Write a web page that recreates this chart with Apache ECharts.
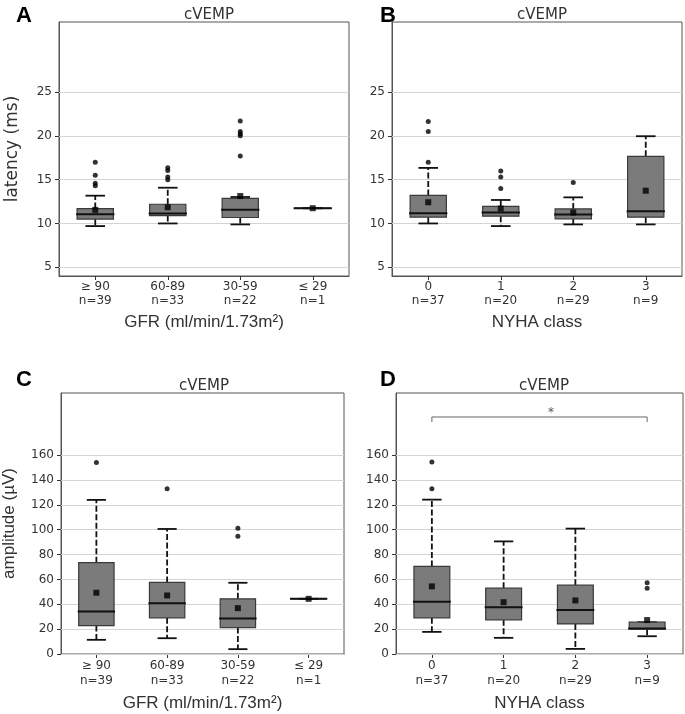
<!DOCTYPE html>
<html>
<head>
<meta charset="utf-8">
<script src="https://cdn.jsdelivr.net/npm/echarts@6/dist/echarts.min.js"></script>
<style>
html,body{margin:0;padding:0;background:#fff;}
#chart{width:685px;height:714px;}
</style>
</head>
<body>
<div id="chart"></div>
<script>
// categories
var gfrCats = ['≥ 90\nn=39', '60-89\nn=33', '30-59\nn=22', '≤ 29\nn=1'];
var nyhaCats = ['0\nn=37', '1\nn=20', '2\nn=29', '3\nn=9'];

// box stats per group: [lower whisker, q1, median, q3, upper whisker]
var latGfrBox = [[9.7, 10.5, 11.06, 11.7, 13.17], [10.0, 10.9, 11.13, 12.19, 14.08], [9.89, 10.68, 11.55, 12.87, 13.02], [11.74, 11.74, 11.74, 11.74, 11.74]];
var latGfrMean = [11.55, 11.85, 13.13, 11.74];
var latGfrOut = [[17.0, 15.5, 14.6, 14.3], [16.35, 16.05, 15.3, 15.0], [21.7, 20.5, 20.25, 20.0, 17.7], []];

var latNyhaBox = [[10.0, 10.72, 11.17, 13.2, 16.34], [9.7, 10.83, 11.25, 11.96, 12.68], [9.89, 10.53, 11.02, 11.66, 12.98], [9.89, 10.72, 11.4, 17.66, 19.96]];
var latNyhaMean = [12.42, 11.7, 11.25, 13.74];
var latNyhaOut = [[21.65, 20.5, 17.0], [16.0, 15.3, 14.0], [14.68], []];

var ampGfrBox = [[11.4, 22.9, 34.2, 73.5, 124.0], [12.7, 29.1, 40.9, 57.6, 100.6], [3.9, 21.3, 28.6, 44.4, 57.3], [44.4, 44.4, 44.4, 44.4, 44.4]];
var ampGfrMean = [49.3, 47.1, 36.9, 44.4];
var ampGfrOut = [[154.1], [132.9], [101.1, 94.7], []];

var ampNyhaBox = [[17.8, 29.1, 42.0, 70.5, 124.2], [13.0, 27.5, 37.7, 53.0, 90.6], [4.1, 24.2, 35.5, 55.4, 100.9], [14.3, 20.0, 20.5, 25.6, 25.6]];
var ampNyhaMean = [54.4, 41.7, 43.1, 27.3];
var ampNyhaOut = [[154.4, 132.9], [], [], [57.3, 53.0]];

// significance bracket in D (groups 0 and 3), bottom / top values
var sigGroups = [0, 3];
var sigLevels = [186.7, 190.7];

// tick labels
var latTicks = [5, 10, 15, 20, 25];
var ampTicks = [0, 20, 40, 60, 80, 100, 120, 140, 160];

var FRAME = '#555';
var TXT = '#333';

var grids = [
	{left: 59, top: 22, width: 290, height: 254},
	{left: 392, top: 22, width: 290, height: 254},
	{left: 55, top: 393, width: 289, height: 261},
	{left: 396, top: 393, width: 287, height: 261}
];

function renderBox(params, api){
	var x = api.value(0);
	var lo = api.coord([x, api.value(1)]);
	var q1 = api.coord([x, api.value(2)]);
	var md = api.coord([x, api.value(3)]);
	var q3 = api.coord([x, api.value(4)]);
	var hi = api.coord([x, api.value(5)]);
	var bw = api.size([1, 0])[0] * 0.5;
	var cx = md[0];
	var cap = bw * 0.27;
	var dash = {stroke: '#111', lineWidth: 1.8, lineDash: [6, 2.5]};
	var solid = {stroke: '#111', lineWidth: 1.8};
	return {
		type: 'group',
		children: [
			{type: 'line', shape: {x1: cx, y1: q3[1], x2: cx, y2: hi[1]}, style: dash},
			{type: 'line', shape: {x1: cx, y1: q1[1], x2: cx, y2: lo[1]}, style: dash},
			{type: 'line', shape: {x1: cx - cap, y1: hi[1], x2: cx + cap, y2: hi[1]}, style: solid},
			{type: 'line', shape: {x1: cx - cap, y1: lo[1], x2: cx + cap, y2: lo[1]}, style: solid},
			{type: 'rect', shape: {x: cx - bw / 2, y: q3[1], width: bw, height: q1[1] - q3[1]},
				style: {fill: '#7b7b7b', stroke: '#3a3a3a', lineWidth: 1.2}},
			{type: 'line', shape: {x1: cx - bw / 2 - 1, y1: md[1], x2: cx + bw / 2 + 1, y2: md[1]},
				style: {stroke: '#111', lineWidth: 2}}
		]
	};
}

function xAxisFor(i, cats, name, gap, lh){
	return {
		type: 'category', gridIndex: i, data: cats,
		name: name, nameLocation: 'middle', nameGap: gap,
		nameTextStyle: {fontFamily: 'Liberation Sans', fontSize: 17, color: TXT},
		axisLine: {lineStyle: {color: FRAME, width: 1}},
		axisTick: {show: true, alignWithLabel: true, length: 4, lineStyle: {color: TXT}},
		axisLabel: {fontFamily: 'DejaVu Sans', fontSize: 12, color: TXT, lineHeight: lh, margin: 4}
	};
}

function yAxisFor(i, min, max, ticks, name, gap, font){
	return {
		type: 'value', gridIndex: i, min: min, max: max,
		name: name, nameLocation: 'middle', nameGap: gap,
		nameTextStyle: {fontFamily: font, fontSize: 17, color: TXT},
		axisLine: {show: true, lineStyle: {color: FRAME, width: 1}},
		axisTick: {show: true, length: 4, customValues: ticks, lineStyle: {color: TXT}},
		axisLabel: {fontFamily: 'DejaVu Sans', fontSize: 12, color: TXT, margin: 7, customValues: ticks},
		splitLine: {show: false}
	};
}

function panelSeries(i, box, mean, out, ticks){
	var boxData = [], meanData = [], outData = [];
	for (var k = 0; k < box.length; k++) {
		boxData.push([k].concat(box[k]));
		meanData.push([k, mean[k]]);
		for (var j = 0; j < out[k].length; j++) {
			outData.push([k, out[k][j]]);
		}
	}
	var gridData = [];
	for (var t = 0; t < ticks.length; t++) {
		gridData.push({yAxis: ticks[t]});
	}
	return [
		{
			type: 'custom', xAxisIndex: i, yAxisIndex: i, renderItem: renderBox,
			encode: {x: 0, y: [1, 2, 3, 4, 5]}, data: boxData, z: 3,
			markLine: {silent: true, symbol: 'none', label: {show: false}, z: 1,
				lineStyle: {color: '#d4d4d4', width: 1, type: 'solid'}, data: gridData}
		},
		{type: 'scatter', xAxisIndex: i, yAxisIndex: i, symbol: 'circle', symbolSize: 5,
			itemStyle: {color: '#000'}, data: outData, z: 4},
		{type: 'scatter', xAxisIndex: i, yAxisIndex: i, symbol: 'rect', symbolSize: 6,
			itemStyle: {color: '#000'}, data: meanData, z: 5}
	];
}

var chart = echarts.init(document.getElementById('chart'));

var series = [].concat(
	panelSeries(0, latGfrBox, latGfrMean, latGfrOut, latTicks),
	panelSeries(1, latNyhaBox, latNyhaMean, latNyhaOut, latTicks),
	panelSeries(2, ampGfrBox, ampGfrMean, ampGfrOut, ampTicks),
	panelSeries(3, ampNyhaBox, ampNyhaMean, ampNyhaOut, ampTicks)
);
series.push({
	type: 'line', xAxisIndex: 3, yAxisIndex: 3, symbol: 'none', z: 6,
	lineStyle: {color: '#666', width: 1},
	data: [[sigGroups[0], sigLevels[0]], [sigGroups[0], sigLevels[1]], [sigGroups[1], sigLevels[1]], [sigGroups[1], sigLevels[0]]]
});

var titleStyle = {fontFamily: 'DejaVu Sans', fontSize: 15, fontWeight: 'normal', color: TXT};
var letterStyle = {fontFamily: 'Liberation Sans', fontSize: 22, fontWeight: 'bold', color: '#000'};

var option = {
	backgroundColor: '#fff',
	animation: false,
	title: [
		{text: 'cVEMP', left: 204, top: 3, textAlign: 'center', textStyle: titleStyle},
		{text: 'cVEMP', left: 537, top: 3, textAlign: 'center', textStyle: titleStyle},
		{text: 'cVEMP', left: 199, top: 374, textAlign: 'center', textStyle: titleStyle},
		{text: 'cVEMP', left: 539, top: 374, textAlign: 'center', textStyle: titleStyle},
		{text: 'A', left: 11, top: 0, textStyle: letterStyle},
		{text: 'B', left: 375, top: 0, textStyle: letterStyle},
		{text: 'C', left: 11, top: 364, textStyle: letterStyle},
		{text: 'D', left: 375, top: 364, textStyle: letterStyle}
	],
	grid: grids.map(function(g){
		return {left: g.left, top: g.top, width: g.width, height: g.height, show: true,
			borderColor: FRAME, borderWidth: 1, backgroundColor: 'transparent'};
	}),
	xAxis: [
		xAxisFor(0, gfrCats, 'GFR (ml/min/1.73m²)', 38, 14),
		xAxisFor(1, nyhaCats, 'NYHA class', 38, 14),
		xAxisFor(2, gfrCats, 'GFR (ml/min/1.73m²)', 41, 15),
		xAxisFor(3, nyhaCats, 'NYHA class', 41, 15)
	],
	yAxis: [
		yAxisFor(0, 4, 33, latTicks, 'latency (ms)', 38, 'DejaVu Sans'),
		yAxisFor(1, 4, 33, latTicks, '', 30, 'DejaVu Sans'),
		yAxisFor(2, 0, 210, ampTicks, 'amplitude (µV)', 43, 'Liberation Sans'),
		yAxisFor(3, 0, 210, ampTicks, '', 30, 'Liberation Sans')
	],
	graphic: [
		{type: 'text', left: 548, top: 407, style: {text: '*', font: '12px DejaVu Sans', fill: '#555'}}
	],
	series: series
};
chart.setOption(option);
</script>
</body>
</html>
